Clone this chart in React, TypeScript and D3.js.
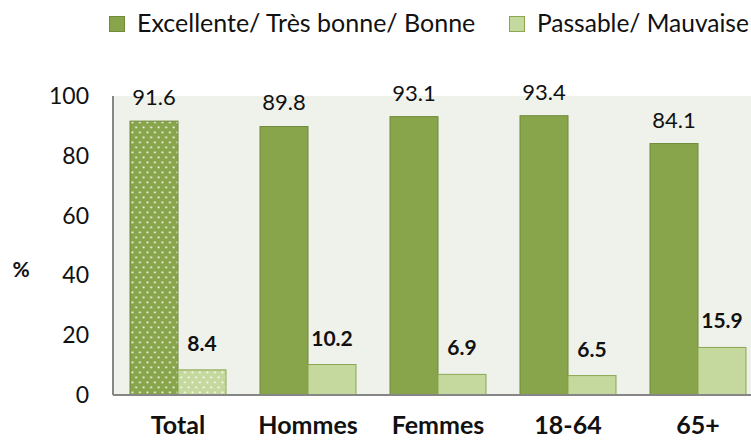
import React from "react";
import * as d3 from "d3";

const categories = ["Total", "Hommes", "Femmes", "18-64", "65+"];
const goodValues = [91.6, 89.8, 93.1, 93.4, 84.1];
const poorValues = [8.4, 10.2, 6.9, 6.5, 15.9];
const seriesNames = ["Excellente/ Très bonne/ Bonne", "Passable/ Mauvaise"];
const yTicks = [0, 20, 40, 60, 80, 100];

const W = 751;
const H = 440;
const FONT = "Lato, 'Open Sans', sans-serif";

export default function App() {
  const left = 113;
  const top = 96;
  const bottom = 395;
  const x = d3.scaleBand<string>().domain(categories).range([left, left + 130 * categories.length]).paddingInner(0).paddingOuter(0);
  const y = d3.scaleLinear().domain([0, 100]).range([bottom, top]);
  const barW = 48;
  const darkFill = "#88A54B";
  const darkStroke = "#6F8A3A";
  const lightFill = "#C5D89D";
  const lightStroke = "#8CA752";

  return (
    <svg width={W} height={H} style={{ position: "absolute", left: 0, top: 0, fontFamily: FONT }}>
      <defs>
        <pattern id="dotsDark" x={130} y={0} width="7.5" height="10" patternUnits="userSpaceOnUse">
          <rect width="7.5" height="10" fill={darkFill} />
          <rect x="1.5" y="1.5" width="1.8" height="1.8" fill="#F2F6EA" />
          <rect x="5.25" y="6.5" width="1.8" height="1.8" fill="#F2F6EA" />
        </pattern>
        <pattern id="dotsLight" x={130} y={0} width="7.5" height="10" patternUnits="userSpaceOnUse">
          <rect width="7.5" height="10" fill={lightFill} />
          <rect x="1.5" y="1.5" width="1.8" height="1.8" fill="#FAFCF5" />
          <rect x="5.25" y="6.5" width="1.8" height="1.8" fill="#FAFCF5" />
        </pattern>
      </defs>
      <rect x={0} y={0} width={W} height={H} fill="#FFFFFF" />
      <rect x={left} y={top} width={W - left} height={bottom - top} fill="#EFF2EA" />

      {categories.map((c, i) => {
        const cx = (x(c) as number) + x.bandwidth() / 2;
        const gy = y(goodValues[i]);
        const py = y(poorValues[i]);
        return (
          <g key={c}>
            <rect x={cx - barW} y={gy} width={barW} height={bottom - gy} fill={i === 0 ? "url(#dotsDark)" : darkFill} stroke={darkStroke} strokeWidth={1} />
            <rect x={cx} y={py} width={barW} height={bottom - py} fill={i === 0 ? "url(#dotsLight)" : lightFill} stroke={lightStroke} strokeWidth={1} />
            <text x={cx - barW / 2} y={gy - 16} textAnchor="middle" fontSize={22} fill="#111">{goodValues[i].toFixed(1)}</text>
            <text x={cx + barW / 2} y={py - 19} textAnchor="middle" fontSize={21} fontWeight="bold" fill="#111">{poorValues[i].toFixed(1)}</text>
            <text x={cx} y={434} textAnchor="middle" fontSize={25} fontWeight="bold" fill="#111">{c}</text>
          </g>
        );
      })}

      <line x1={left} y1={top} x2={left} y2={bottom} stroke="#868686" strokeWidth={2} />
      <line x1={left} y1={bottom} x2={W} y2={bottom} stroke="#868686" strokeWidth={2} />

      {yTicks.map((t) => (
        <text key={t} x={89} y={y(t) + 8} textAnchor="end" fontSize={23} fill="#111">{t}</text>
      ))}
      <text x={21} y={277} textAnchor="middle" fontSize={21} fontWeight="bold" fill="#111">%</text>

      <rect x={109.5} y={16.5} width={15} height={15} fill={darkFill} stroke={darkStroke} />
      <text x={137} y={32} fontSize={25} fill="#111">{seriesNames[0]}</text>
      <rect x={509.5} y={16.5} width={15} height={15} fill={lightFill} stroke={lightStroke} />
      <text x={537} y={32} fontSize={24.5} fill="#111">{seriesNames[1]}</text>
    </svg>
  );
}
